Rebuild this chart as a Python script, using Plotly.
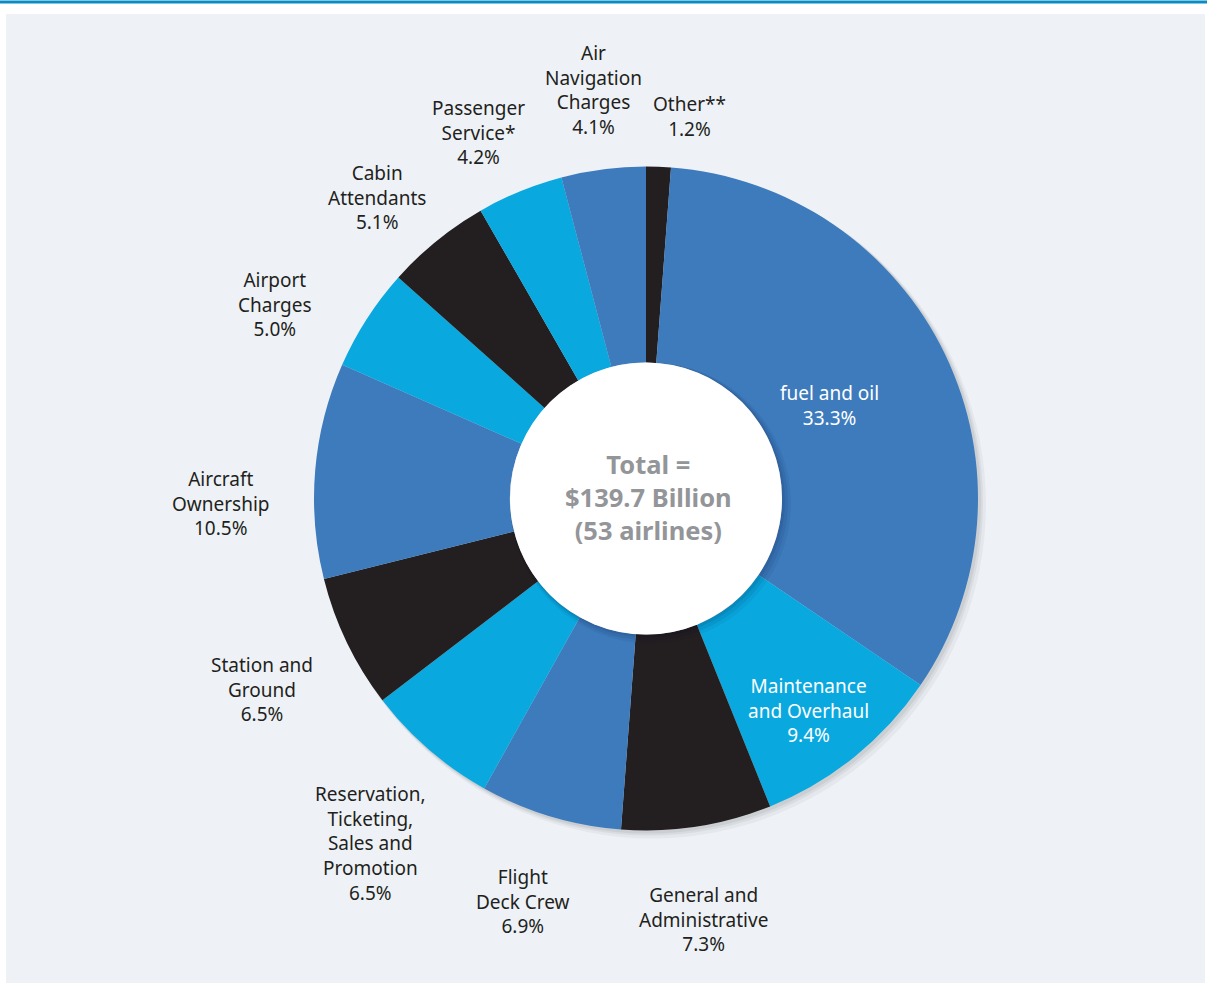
import plotly.graph_objects as go

# ---------------- data ----------------
categories = ["Other**", "fuel and oil", "Maintenance and Overhaul",
              "General and Administrative", "Flight Deck Crew",
              "Reservation, Ticketing, Sales and Promotion",
              "Station and Ground", "Aircraft Ownership", "Airport Charges",
              "Cabin Attendants", "Passenger Service*", "Air Navigation Charges"]
label_lines = ["Other**", "fuel and oil", "Maintenance<br>and Overhaul",
               "General and<br>Administrative", "Flight<br>Deck Crew",
               "Reservation,<br>Ticketing,<br>Sales and<br>Promotion",
               "Station and<br>Ground", "Aircraft<br>Ownership", "Airport<br>Charges",
               "Cabin<br>Attendants", "Passenger<br>Service*", "Air<br>Navigation<br>Charges"]
values = [1.2, 33.3, 9.4, 7.3, 6.9, 6.5, 6.5, 10.5, 5.0, 5.1, 4.2, 4.1]
center_text = "Total =<br>$139.7 Billion<br>(53 airlines)"

# ---------------- style / layout ----------------
W, H = 1207, 983
BLUE, CYAN, BLACK = "#3d7bbd", "#09a9e0", "#231f20"
colors = [BLACK, BLUE, CYAN, BLACK, BLUE, CYAN, BLACK, BLUE, CYAN, BLACK, CYAN, BLUE]
inside = [False, True, True, False, False, False, False, False, False, False, False, False]
# label centres in pixels (x from left, y from top)
label_pos = [(690, 116), (829, 405), (808, 710), (703, 919), (523, 901), (370, 843),
             (262, 689), (221, 503), (275, 304), (377, 197), (478, 133), (593, 90)]
CX, CY, R, RH = 646, 498.5, 332, 136
FONT = "Noto Sans"


def px(x):
    return x / W


def py(y):
    return 1 - y / H


fig = go.Figure()
fig.add_trace(go.Pie(
    labels=categories, values=values, sort=False, direction="clockwise",
    rotation=0, hole=RH / R, textinfo="none", hoverinfo="label+percent",
    marker=dict(colors=colors, line=dict(width=0)), showlegend=False,
    domain=dict(x=[px(CX - R), px(CX + R)], y=[py(CY + R), py(CY - R)]),
))

shapes = [
    # panel background
    dict(type="rect", xref="paper", yref="paper", x0=px(6), x1=px(1205), y0=py(983), y1=py(14),
         fillcolor="#eef2f7", line=dict(width=0), layer="below"),
    # top rule
    dict(type="rect", xref="paper", yref="paper", x0=px(0), x1=px(1207), y0=py(3.5), y1=py(0.5),
         fillcolor="#0a8cc3", line=dict(width=0), layer="below"),
]
# soft outer shadow
for off, op in [(8, 0.04), (5, 0.05), (3, 0.06)]:
    shapes.append(dict(type="circle", xref="paper", yref="paper",
                       x0=px(CX - R + off * 0.5), x1=px(CX + R + off), y0=py(CY + R + off), y1=py(CY - R + off * 0.5),
                       fillcolor=f"rgba(0,0,0,{op})", line=dict(width=0), layer="below"))
# inner hole shadow + white hole
for off, op in [(9, 0.05), (6, 0.06), (3, 0.08)]:
    shapes.append(dict(type="circle", xref="paper", yref="paper",
                       x0=px(CX - RH), x1=px(CX + RH + off), y0=py(CY + RH + off), y1=py(CY - RH),
                       fillcolor=f"rgba(0,0,40,{op})", line=dict(width=0), layer="above"))
shapes.append(dict(type="circle", xref="paper", yref="paper",
                   x0=px(CX - RH), x1=px(CX + RH), y0=py(CY + RH), y1=py(CY - RH),
                   fillcolor="white", line=dict(width=0), layer="above"))

annotations = []
for lab, v, (lx, ly), ins in zip(label_lines, values, label_pos, inside):
    annotations.append(dict(
        x=px(lx), y=py(ly), xref="paper", yref="paper", showarrow=False,
        text=f"{lab}<br>{v:.1f}%", align="center", xanchor="center", yanchor="middle",
        font=dict(family=FONT, size=19, color="white" if ins else BLACK)))
annotations.append(dict(
    x=px(648), y=py(497), xref="paper", yref="paper", showarrow=False,
    text=f"<b>{center_text}</b>", align="center", xanchor="center", yanchor="middle",
    font=dict(family=FONT, size=25.5, color="#939598")))

fig.update_layout(
    width=W, height=H, margin=dict(l=0, r=0, t=0, b=0),
    paper_bgcolor="white", plot_bgcolor="white",
    shapes=shapes, annotations=annotations,
)
fig.write_html("out.html")
